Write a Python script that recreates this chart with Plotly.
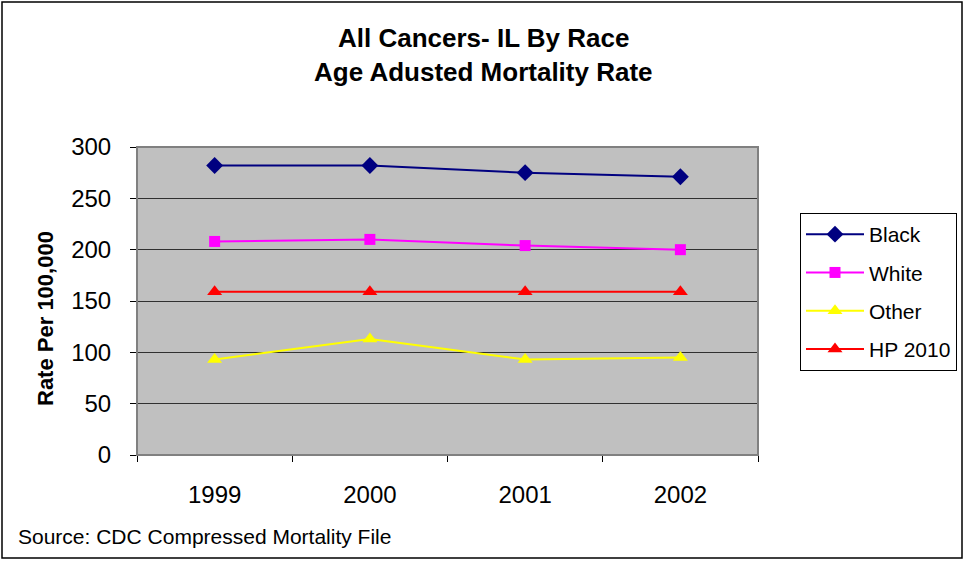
import plotly.graph_objects as go

years = ["1999", "2000", "2001", "2002"]
black = [282, 282, 275, 271]
white = [208, 210, 204, 200]
other = [93, 113, 93, 95]
hp2010 = [159, 159, 159, 159]
y_ticks = [0, 50, 100, 150, 200, 250, 300]

W, H = 964, 561
L, R, T, B = 137, 206, 147, 106
pw, ph = W - L - R, H - T - B

def px(x):
    return (x - L) / pw

def py(y):
    return (H - B - y) / ph

FONT = "Liberation Sans, Arial, sans-serif"

fig = go.Figure()
series = [
    ("Black", black, "#000080", "diamond", 13),
    ("White", white, "#FF00FF", "square", 11),
    ("Other", other, "#FFFF00", "triangle-up", 13),
    ("HP 2010", hp2010, "#FF0000", "triangle-up", 13),
]
for name, vals, col, sym, sz in series:
    fig.add_trace(go.Scatter(
        x=years, y=vals, name=name, mode="lines+markers", legendgroup=name,
        line=dict(color=col, width=2),
        marker=dict(symbol=sym, size=sz, color=col, line=dict(width=0)),
    ))

fig.update_layout(
    width=W, height=H,
    margin=dict(l=L, r=R, t=T, b=B, autoexpand=False),
    paper_bgcolor="white", plot_bgcolor="#C0C0C0",
    font=dict(family=FONT, color="black"),
    showlegend=True,
    legend=dict(
        x=px(800), y=py(213), xanchor="left", yanchor="top",
        bordercolor="black", borderwidth=1, bgcolor="white",
        font=dict(size=21, family=FONT),
        itemwidth=58, tracegroupgap=8,
    ),
    xaxis=dict(
        type="category", range=[-0.5, 3.5], tickson="boundaries",
        ticks="outside", ticklen=6, tickcolor="black",
        showline=True, linecolor="black", linewidth=1,
        showgrid=False, tickfont=dict(size=24, family=FONT),
        ticklabelstandoff=18,
    ),
    yaxis=dict(
        range=[0, 300], tickvals=y_ticks, ticks="outside", ticklen=6,
        tickcolor="black", showline=True, linecolor="black", linewidth=1,
        showgrid=True, gridcolor="#303030", gridwidth=1,
        tickfont=dict(size=24, family=FONT), ticklabelstandoff=14,
        zeroline=False,
    ),
)

# plot area border
fig.add_shape(type="rect", xref="paper", yref="paper", x0=0, y0=0, x1=1, y1=1,
              line=dict(color="#808080", width=2), layer="above")
# outer chart border
fig.add_shape(type="rect", xref="paper", yref="paper",
              x0=px(2), y0=py(558), x1=px(962), y1=py(2),
              line=dict(color="black", width=1.5))

fig.add_annotation(text="<b>All Cancers- IL By Race</b>", xref="paper", yref="paper",
                   x=px(483), y=py(38), xanchor="center", yanchor="middle",
                   showarrow=False, font=dict(size=26, family=FONT))
fig.add_annotation(text="<b>Age Adusted Mortality Rate</b>", xref="paper", yref="paper",
                   x=px(483), y=py(72), xanchor="center", yanchor="middle",
                   showarrow=False, font=dict(size=26, family=FONT))
fig.add_annotation(text="<b>Rate Per 100,000</b>", xref="paper", yref="paper",
                   x=px(45), y=py(319), xanchor="center", yanchor="middle", textangle=-90,
                   showarrow=False, font=dict(size=22, family=FONT))
fig.add_annotation(text="Source: CDC Compressed Mortality File", xref="paper", yref="paper",
                   x=px(16), y=py(536), xanchor="left", yanchor="middle", showarrow=False,
                   font=dict(size=21, family=FONT))

fig.write_html("out.html", config={"displayModeBar": False},
               post_script="document.body.style.margin='0px';")
